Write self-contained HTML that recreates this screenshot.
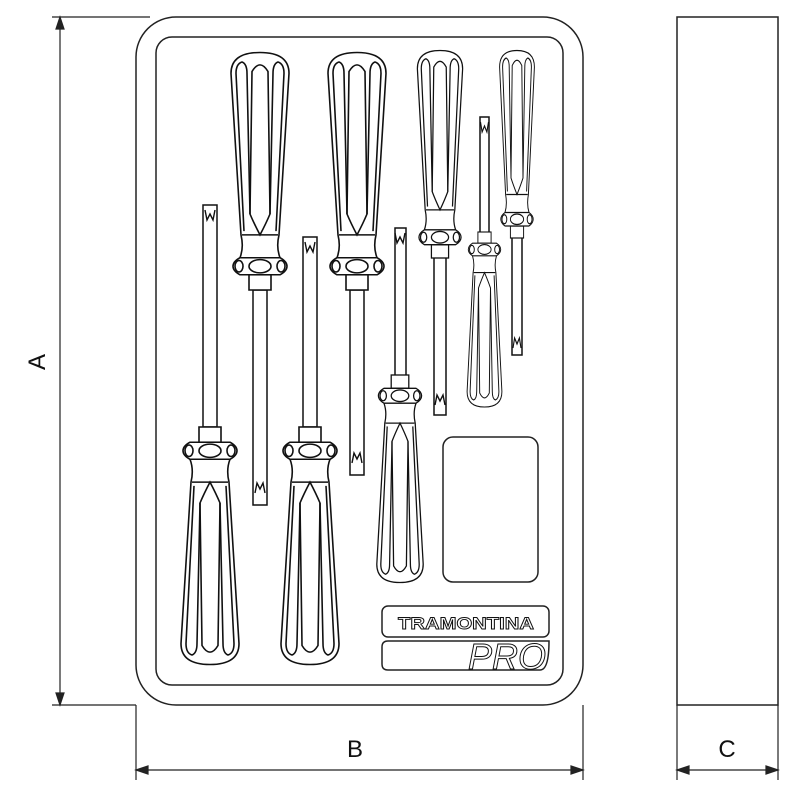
<!DOCTYPE html>
<html><head><meta charset="utf-8"><style>html,body{margin:0;padding:0;background:#fff}svg{display:block}</style></head><body>
<svg width="800" height="800" viewBox="0 0 800 800" xmlns="http://www.w3.org/2000/svg">
<defs>
<g id="h" fill="none" stroke="#111" stroke-width="1.6">
<rect x="-11" y="0" width="22" height="16" fill="#fff"/>
<path d="M-20,16 L20,16 Q27,20 27,25 Q27,30 20,34 L-20,34 Q-27,30 -27,25 Q-27,20 -20,16Z" fill="#fff"/>
<ellipse cx="0" cy="25" rx="11" ry="7"/>
<ellipse cx="-21" cy="25" rx="4" ry="6"/>
<ellipse cx="21" cy="25" rx="4" ry="6"/>
<path d="M-20,34 Q-16,45 -19,58 L-29,228 Q-29,250 0,250 Q29,250 29,228 L19,58 Q16,45 20,34"/>
<path d="M-16,62 L-24,228 Q-24,238 -18,240 Q-13,238 -13,228 L-10,80"/>
<path d="M16,62 L24,228 Q24,238 18,240 Q13,238 13,228 L10,80"/>
<path d="M-10,80 Q-6,70 0,58 Q6,70 10,80 L8,230 Q0,244 -8,230Z"/>
<path d="M-18,58 L18,58"/>
</g>
<g id="tip" fill="none" stroke="#111" stroke-width="1.4">
<path d="M-5,0 L-3,10 L0,4 L3,10 L5,0"/>
</g>
</defs>
<g fill="none" stroke="#222" stroke-width="1.5">
<rect x="136" y="17" width="447" height="688" rx="40"/>
<rect x="156" y="37" width="407" height="648" rx="16"/>
<rect x="443" y="437" width="95" height="145" rx="10"/>
<rect x="382" y="606" width="167" height="31" rx="6"/>
<path d="M388,641 L549,641 Q549,670 540,670 L388,670 Q382,670 382,664 L382,647 Q382,641 388,641Z"/>
<rect x="677" y="17" width="101" height="688"/>
</g>
<text x="466" y="629" font-family="Liberation Sans,sans-serif" font-size="17" font-weight="bold" text-anchor="middle" fill="#fff" stroke="#111" stroke-width="0.9" textLength="136" lengthAdjust="spacingAndGlyphs">TRAMONTINA</text>
<text x="507" y="669" font-family="Liberation Sans,sans-serif" font-size="36" font-style="italic" text-anchor="middle" fill="#fff" stroke="#111" stroke-width="1">PRO</text>
<g fill="#fff" stroke="#111" stroke-width="1.5">
<rect x="253" y="290" width="14" height="215"/>
<rect x="350" y="290" width="14" height="185"/>
<rect x="434" y="257" width="12" height="158"/>
<rect x="512" y="237" width="10" height="118"/>
<rect x="203" y="205" width="14" height="222"/>
<rect x="303" y="237" width="14" height="190"/>
<rect x="395" y="228" width="11" height="150"/>
<rect x="480" y="117" width="9" height="118"/>
</g>
<use href="#tip" transform="translate(260,493) scale(1,-1)"/>
<use href="#tip" transform="translate(357,463) scale(1,-1)"/>
<use href="#tip" transform="translate(440,405) scale(1,-1)"/>
<use href="#tip" transform="translate(517,348) scale(0.8,-1)"/>
<use href="#tip" transform="translate(210,210)"/>
<use href="#tip" transform="translate(310,242)"/>
<use href="#tip" transform="translate(400,233)"/>
<use href="#tip" transform="translate(484.5,122) scale(0.8,1)"/>
<use href="#h" transform="translate(260,290) scale(1,-0.95)"/>
<use href="#h" transform="translate(357,290) scale(1,-0.95)"/>
<use href="#h" transform="translate(440,258) scale(0.78,-0.83)"/>
<use href="#h" transform="translate(517,238) scale(0.6,-0.75)"/>
<use href="#h" transform="translate(210,427) scale(1,0.95)"/>
<use href="#h" transform="translate(310,427) scale(1,0.95)"/>
<use href="#h" transform="translate(400,375) scale(0.8,0.83)"/>
<use href="#h" transform="translate(484.5,232) scale(0.6,0.7)"/>
<g stroke="#222" stroke-width="1.2" fill="#222">
<line x1="52" y1="17" x2="150" y2="17"/>
<line x1="52" y1="705" x2="136" y2="705"/>
<line x1="60" y1="17" x2="60" y2="705"/>
<path d="M60,17 L56,29 L64,29Z"/><path d="M60,705 L56,693 L64,693Z"/>
<line x1="136" y1="705" x2="136" y2="780"/>
<line x1="583" y1="705" x2="583" y2="780"/>
<line x1="136" y1="770" x2="583" y2="770"/>
<path d="M136,770 L148,766 L148,774Z"/><path d="M583,770 L571,766 L571,774Z"/>
<line x1="677" y1="705" x2="677" y2="780"/>
<line x1="778" y1="705" x2="778" y2="780"/>
<line x1="677" y1="770" x2="778" y2="770"/>
<path d="M677,770 L689,766 L689,774Z"/><path d="M778,770 L766,766 L766,774Z"/>
</g>
<g font-family="Liberation Sans,sans-serif" font-size="24" fill="#111" text-anchor="middle">
<text x="355" y="757">B</text>
<text x="727" y="757">C</text>
<text transform="translate(45,362) rotate(-90)">A</text>
</g>
</svg>
</body></html>
